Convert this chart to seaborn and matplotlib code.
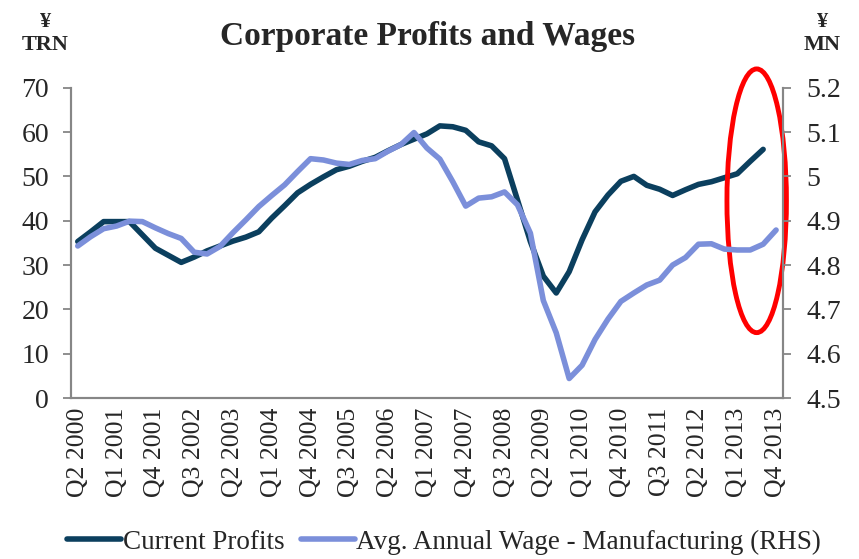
import numpy as np
import pandas as pd
import seaborn as sns
import matplotlib.pyplot as plt
from matplotlib.patches import Ellipse

# quarters Q2 2000 .. Q4 2013
quarters = []
for year in range(2000, 2014):
    for q in range(1, 5):
        if year == 2000 and q < 2:
            continue
        quarters.append(f"Q{q} {year}")

# Current profits, JPY trillion (Q2 2000 .. Q3 2013)
profits = [35.3, 37.5, 39.8, 39.8, 39.8, 36.8, 33.8, 32.2, 30.6, 31.8,
           33.2, 34.3, 35.4, 36.3, 37.5, 40.6, 43.4, 46.3, 48.2, 49.9,
           51.5, 52.3, 53.4, 54.3, 55.8, 57.2, 58.4, 59.6, 61.4, 61.2,
           60.4, 57.8, 56.9, 54.0, 44.7, 35.3, 27.5, 23.7, 28.5, 35.7,
           42.0, 45.8, 48.9, 50.0, 48.0, 47.1, 45.7, 47.0, 48.2, 48.8,
           49.7, 50.6, 53.4, 56.1]

# Avg. annual wage - manufacturing, JPY million (Q2 2000 .. Q4 2013)
wages = [4.843, 4.864, 4.882, 4.888, 4.899, 4.898, 4.884, 4.871, 4.860, 4.829,
         4.825, 4.842, 4.873, 4.902, 4.932, 4.957, 4.981, 5.011, 5.040, 5.037,
         5.030, 5.027, 5.036, 5.040, 5.057, 5.072, 5.099, 5.064, 5.039, 4.988,
         4.933, 4.951, 4.954, 4.965, 4.936, 4.872, 4.720, 4.647, 4.544, 4.574,
         4.632, 4.678, 4.718, 4.737, 4.755, 4.766, 4.800, 4.817, 4.847, 4.848,
         4.836, 4.834, 4.834, 4.847, 4.879]

dark = "#0b3f5e"
light = "#7b8fda"
grey = "#868686"

sns.set_style("white")
plt.rcParams['font.family'] = ['Liberation Serif', 'DejaVu Serif']

df_p = pd.DataFrame({"pos": np.arange(len(profits)), "val": profits})
df_w = pd.DataFrame({"pos": np.arange(len(wages)), "val": wages})

fig = plt.figure(figsize=(8.59, 5.59), dpi=100)
ax = fig.add_axes([0.083, 0.288, 0.828, 0.555])
ax2 = ax.twinx()

sns.lineplot(data=df_p, x="pos", y="val", ax=ax, color=dark, linewidth=4,
             label="Current Profits", legend=False)
sns.lineplot(data=df_w, x="pos", y="val", ax=ax2, color=light, linewidth=4,
             label="Avg. Annual Wage - Manufacturing (RHS)", legend=False)

ax.set_xlim(-0.5, len(quarters) - 0.5)
ax.set_ylim(0, 70)
ax2.set_ylim(4.5, 5.2)
ax.set_yticks(range(0, 71, 10))
ax2.set_yticks([4.5, 4.6, 4.7, 4.8, 4.9, 5.0, 5.1, 5.2])
ax2.set_yticklabels(["4.5", "4.6", "4.7", "4.8", "4.9", "5", "5.1", "5.2"])

ax.set_xticks(np.arange(0, len(quarters), 3))
ax.set_xticklabels(quarters[::3], rotation=90)
ax.set_xticks(np.arange(-0.5, len(quarters)), minor=True)
ax.tick_params(axis="x", which="major", length=0, pad=7, labelsize=18.5)
ax.tick_params(axis="x", which="minor", length=6, width=1.3, color=grey, direction="out")
ax.tick_params(axis="y", length=6, width=1.3, color=grey, direction="out", labelsize=20, pad=10)
ax2.tick_params(axis="y", length=6, width=1.3, color=grey, direction="out", labelsize=20, pad=11)

for a in (ax, ax2):
    a.set_xlabel("")
    a.set_ylabel("")
    a.spines["top"].set_visible(False)
    for s in ("left", "right", "bottom"):
        a.spines[s].set_color(grey)
        a.spines[s].set_linewidth(1.5)

fig.text(0.498, 0.935, "Corporate Profits and Wages", ha="center", va="center",
         fontsize=24, fontweight="bold")
fig.text(0.053, 0.94, "¥\nTRN", ha="center", va="center", fontsize=16,
         fontweight="bold", linespacing=1.25)
fig.text(0.957, 0.94, "¥\nMN", ha="center", va="center", fontsize=16,
         fontweight="bold", linespacing=1.25)

handles = ax.get_lines()[:1] + ax2.get_lines()[:1]
fig.legend(handles, [h.get_label() for h in handles], loc="center",
           bbox_to_anchor=(0.517, 0.03), ncol=2, frameon=False, fontsize=19.5,
           handlelength=2.0, handletextpad=0.05, columnspacing=0.6)

# red highlight ellipse around the latest quarters
ell = Ellipse((52.5, 44.5), width=4.6, height=59.5, fill=False,
              edgecolor="#ff0000", linewidth=3.5, clip_on=False, zorder=5)
ax.add_patch(ell)

fig.savefig("out.png", dpi=100)
